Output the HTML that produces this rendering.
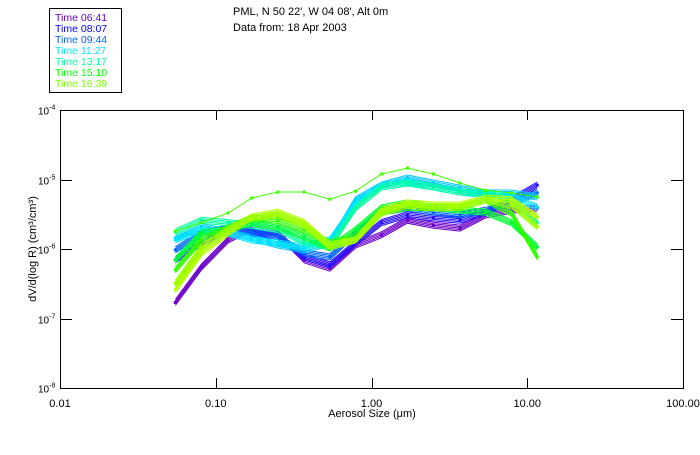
<!DOCTYPE html>
<html><head><meta charset="utf-8"><style>
body{margin:0;background:#fff;width:700px;height:450px;overflow:hidden;font-family:"Liberation Sans",sans-serif}
svg text{font-family:"Liberation Sans",sans-serif}
</style></head><body>
<svg id="chart" width="700" height="450" viewBox="0 0 700 450" xmlns="http://www.w3.org/2000/svg">
<rect x="0" y="0" width="700" height="450" fill="#fff"/>
<g font-size="11" fill="#000">
<text x="233" y="15">PML, N 50 22', W 04 08', Alt 0m</text>
<text x="233" y="31">Data from: 18 Apr 2003</text>
</g>
<g id="legend"><rect x="49.5" y="8.5" width="72" height="84" fill="#fff" stroke="#000"/></g>
<rect x="60.5" y="110.5" width="623" height="278" fill="none" stroke="#000"/>
<g id="axes"></g>
<g id="series"></g>
<text x="372" y="417" font-size="11" text-anchor="middle">Aerosol Size (μm)</text>
<text transform="translate(36,249) rotate(-90)" font-size="11" text-anchor="middle">dV/d(log R) (cm³/cm³)</text>
</svg>
<script>
const sizes=[0.055,0.081,0.12,0.17,0.25,0.37,0.54,0.79,1.16,1.7,2.5,3.7,5.4,7.9,11.6];
const xTicks=[0.01,0.1,1,10,100];
const xTickLabels=["0.01","0.10","1.00","10.00","100.00"];
const yTickExps=[-4,-5,-6,-7,-8];
const legendLabels=["Time 06:41","Time 08:07","Time 09:44","Time 11:27","Time 13:17","Time 15:10","Time 16:39"];
const legendColors=["#6a00c8","#0000ff","#0064ff","#00e6ff","#00ffa0","#00ff00","#78ff00"];
const seriesColors=["#6a00c8","#2a10ff","#0064ff","#00c8ff","#00e6ff","#00ffa0","#00ff30","#30ff00","#b4ff00","#9cff00","#40ff00"];
const sViolet=[1.7e-7,5.5e-7,1.35e-6,2.0e-6,1.7e-6,7.0e-7,5.3e-7,1.14e-6,1.6e-6,2.6e-6,2.2e-6,2.0e-6,3.1e-6,3.6e-6,3.9e-6];
const sBlue=[7.0e-7,1.22e-6,1.9e-6,1.7e-6,1.5e-6,7.7e-7,5.9e-7,1.22e-6,2.4e-6,3.1e-6,2.8e-6,2.6e-6,3.4e-6,5.1e-6,8.3e-6];
const sAzure=[9.7e-7,1.7e-6,2.0e-6,1.76e-6,1.5e-6,8.8e-7,7.7e-7,1.7e-6,3.4e-6,3.9e-6,3.4e-6,3.1e-6,3.6e-6,4.6e-6,6.4e-6];
const sCyan=[1.44e-6,2.1e-6,1.76e-6,1.44e-6,1.14e-6,9.7e-7,1.22e-6,5.1e-6,8.3e-6,1.05e-5,8.9e-6,7.5e-6,6.4e-6,6.4e-6,5.6e-6];
const sCyan2=[1.35e-6,1.9e-6,1.7e-6,1.35e-6,1.22e-6,1.07e-6,1.35e-6,4.6e-6,8.3e-6,9.2e-6,7.8e-6,6.6e-6,6.0e-6,5.6e-6,4.0e-6];
const sSpring=[1.76e-6,2.6e-6,2.4e-6,2.2e-6,1.9e-6,1.26e-6,1.07e-6,3.9e-6,7.8e-6,8.9e-6,7.8e-6,6.6e-6,6.4e-6,5.1e-6,2.4e-6];
const sGreen=[7.0e-7,1.7e-6,1.9e-6,2.4e-6,2.1e-6,1.5e-6,1.03e-6,1.9e-6,3.9e-6,4.6e-6,4.0e-6,3.6e-6,3.4e-6,2.4e-6,1.07e-6];
const sGreen2=[5.0e-7,1.35e-6,2.0e-6,2.8e-6,2.6e-6,1.9e-6,1.22e-6,1.5e-6,3.4e-6,4.0e-6,3.9e-6,4.0e-6,5.1e-6,3.3e-6,7.7e-7];
const sYellow=[2.6e-7,8.8e-7,1.7e-6,2.9e-6,3.4e-6,2.4e-6,1.14e-6,1.35e-6,3.6e-6,4.6e-6,4.3e-6,4.3e-6,5.4e-6,5.1e-6,2.9e-6];
const sYellow2=[3.2e-7,1.07e-6,1.9e-6,2.8e-6,3.1e-6,2.2e-6,1.07e-6,1.35e-6,3.3e-6,4.3e-6,3.9e-6,4.0e-6,5.1e-6,4.3e-6,2.1e-6];
const sOutlier=[1.8e-6,2.4e-6,3.3e-6,5.4e-6,6.6e-6,6.6e-6,5.2e-6,6.8e-6,1.2e-5,1.46e-5,1.2e-5,8.9e-6,7.0e-6,6.4e-6,5.6e-6];
const allSeries=[sViolet,sBlue,sAzure,sCyan,sCyan2,sSpring,sGreen,sGreen2,sYellow,sYellow2,sOutlier];

const NS="http://www.w3.org/2000/svg";
const X0=60,X1=683,Y0=110,Y1=388;
function xScale(v){return X0+(Math.log10(v)+2)/4*(X1-X0);}
function yScale(v){return Y0+(-4-Math.log10(v))/4*(Y1-Y0);}
function mk(tag,attrs,parent){const e=document.createElementNS(NS,tag);for(const k in attrs)e.setAttribute(k,attrs[k]);parent.appendChild(e);return e;}
const axes=document.getElementById('axes');
xTicks.forEach((t,i)=>{
  const x=Math.round(xScale(t))+0.5;
  const l=mk('line',{x1:x,x2:x,y1:Y1,y2:Y1-10,stroke:'#000'},axes);
  
  
  const l2=mk('line',{x1:x,x2:x,y1:Y0,y2:Y0+10,stroke:'#000'},axes);
  
  
  const tx=mk('text',{x:xScale(t),y:407,'font-size':11,'text-anchor':'middle'},axes);
  tx.textContent=xTickLabels[i];
  
  
});
yTickExps.forEach(e=>{
  const y=Math.round(yScale(Math.pow(10,e)))+0.5;
  const l=mk('line',{x1:X0,x2:X0+12,y1:y,y2:y,stroke:'#000'},axes);
  
  
  const l2=mk('line',{x1:X1,x2:X1-12,y1:y,y2:y,stroke:'#000'},axes);
  
  
  const tx=mk('text',{x:38,y:y+4,'font-size':10},axes);
  
  
  tx.textContent='10';
  const sp=mk('tspan',{dy:-5,'font-size':7},tx);
  sp.textContent=String(e);
});
const sg=document.getElementById('series');
allSeries.forEach((vals,si)=>{
  const c=seriesColors[si];
  const g=mk('g',{},sg);
  
  
  const offs=si===10?[0]:[-3,-1.5,0,1.5,3];
  offs.forEach(o=>{
    const pts=vals.map((v,i)=>xScale(sizes[i]).toFixed(1)+','+(yScale(v)+o).toFixed(1)).join(' ');
    mk('polyline',{points:pts,fill:'none',stroke:c,'stroke-width':1},g);
  });
  vals.forEach((v,i)=>{
    const r=mk('rect',{x:xScale(sizes[i])-1.5,y:yScale(v)-1.5,width:3,height:3,fill:c},g);
    
    
  });
});
const lg=document.getElementById('legend');
legendLabels.forEach((t,i)=>{
  const tx=mk('text',{x:55,y:21+i*11,'font-size':10.5,fill:legendColors[i]},lg);
  tx.textContent=t;
  
  
});
</script>
</body></html>
